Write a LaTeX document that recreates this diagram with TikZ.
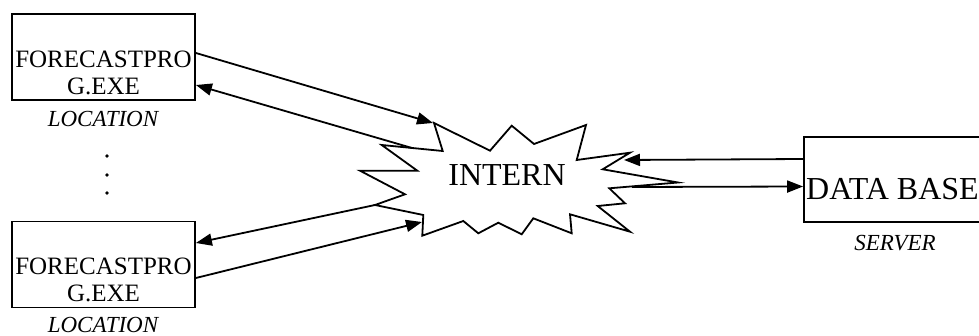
\documentclass[tikz,border=0pt]{standalone}
\usepackage{fontspec}
\setmainfont{Liberation Serif}
\usetikzlibrary{arrows.meta}

\tikzset{
  progbox/.style={draw, line width=1.8pt, minimum width=183pt, minimum height=86pt, inner sep=0pt},
  boxtext/.style={align=center, font=\fontsize{25}{27}\selectfont, inner sep=0pt},
  place/.style={font=\fontsize{23}{25}\selectfont\itshape, inner sep=0pt},
  link/.style={line width=1.8pt, -{Triangle[length=16pt,width=12pt]}},
}

\begin{document}
\begin{tikzpicture}[x=1pt, y=-1pt]
    \useasboundingbox (0,0) rectangle (979,336);
    \clip (0,0) rectangle (979,336);
    % Location programs
    \node[progbox] (prog1) at (103.5,57) {};
    \node[boxtext] (prog1txt) at ([yshift=-16pt]prog1.center) {FORECASTPRO\\G.EXE};
    \node[place] (loc1) at (103,119) {LOCATION};
    \node[progbox] (prog2) at (103.5,264.5) {};
    \node[boxtext] (prog2txt) at ([yshift=-15.5pt]prog2.center) {FORECASTPRO\\G.EXE};
    \node[place] (loc2) at (103,324.5) {LOCATION};
    \foreach \y in {156,175,193} {
        \fill (107,\y) circle (1.8pt);
    }
    % Network
    \draw[line width=1.8pt] (434,123) -- (442.7,151) -- (381.7,145) -- (417.3,170.7)
        -- (360,170.7) -- (405,194.3) -- (375,205) -- (423.3,215) -- (422.3,235.7)
        -- (463.3,221) -- (478.3,233.3) -- (498.3,222.7) -- (521.7,234.3)
        -- (533.3,218.3) -- (571.7,233.3) -- (570,214.3) -- (630,231.7)
        -- (597.7,206) -- (625,203.3) -- (609.3,188.3) -- (678,182.5)
        -- (602.7,169.3) -- (630,152.7) -- (576.7,160) -- (586,125)
        -- (534,144) -- (511.7,125.7) -- (490,150.7) -- cycle;
    \node[font=\fontsize{32}{34}\selectfont, inner sep=0pt] (net) at (507,175) {INTERN};
    \coordinate (net-a) at (433,123);
    \coordinate (net-b) at (412,148);
    \coordinate (net-c) at (375,205);
    \coordinate (net-d) at (422,222);
    \coordinate (net-e) at (624,160);
    \coordinate (net-f) at (632,187);
    % Server
    \node[draw, line width=1.8pt, minimum width=196pt, minimum height=85pt] (db) at (902,179.5) {};
    \node[font=\fontsize{32}{34}\selectfont, inner sep=0pt, anchor=base west] (dbtxt) at (806,200) {DATA BASE};
    \node[place] (srv) at (895,243) {SERVER};
    % Links
    \draw[link] ([yshift=4pt]prog1.east) -- (net-a);
    \draw[link] (net-b) -- ([yshift=-28pt]prog1.east);
    \draw[link] (net-c) -- ([yshift=21.5pt]prog2.east);
    \draw[link] ([yshift=-13.5pt]prog2.east) -- (net-d);
    \draw[link] ([yshift=20.5pt]db.west) -- (net-e);
    \draw[link] (net-f) -- ([yshift=-7pt]db.west);
\end{tikzpicture}
\end{document}
